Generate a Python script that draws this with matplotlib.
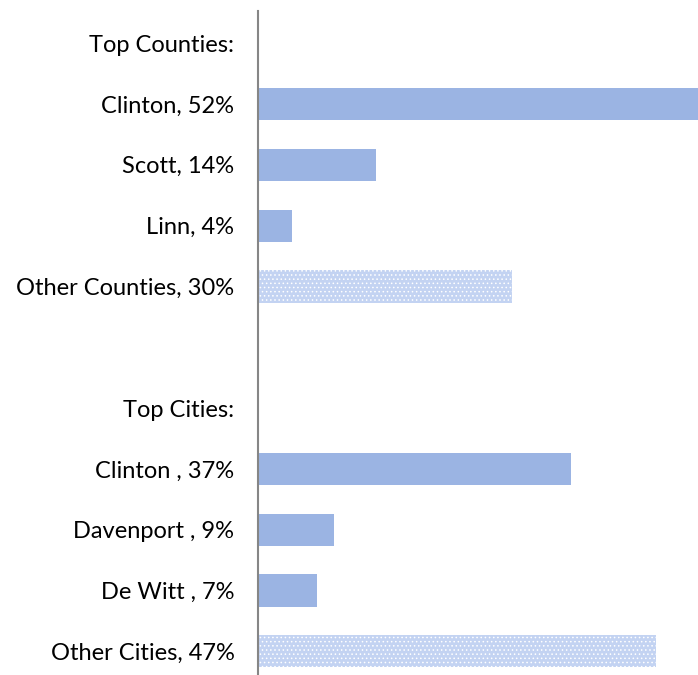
import matplotlib.pyplot as plt

plt.rcParams['font.family'] = ['Lato', 'DejaVu Sans']
plt.rcParams['hatch.linewidth'] = 0.6

labels = ["Top Counties:", "Clinton, 52%", "Scott, 14%", "Linn, 4%",
          "Other Counties, 30%", "", "Top Cities:", "Clinton , 37%",
          "Davenport , 9%", "De Witt , 7%", "Other Cities, 47%"]
values = [0, 52, 14, 4, 30, 0, 0, 37, 9, 7, 47]
is_other = [False, False, False, False, True, False, False, False, False, False, True]

C_BAR = "#9bb4e3"
C_OTHER = "#c3d3f2"

fig = plt.figure(figsize=(6.98, 6.75), dpi=100)
ax = fig.add_axes([258 / 698, 0.0, 1 - 258 / 698, 1 - 11 / 675])

ypos = list(range(len(labels)))
for y, v, other in zip(ypos, values, is_other):
    if v == 0:
        continue
    if other:
        ax.barh(y, v, height=0.53, color=C_OTHER, edgecolor="white",
                hatch="....", linewidth=0)
    else:
        ax.barh(y, v, height=0.53, color=C_BAR, linewidth=0)

ax.set_xlim(0, 52)
ax.set_ylim(10.39, -0.53)
ax.set_yticks(ypos)
ax.set_yticklabels(labels, fontsize=17, color="black")
ax.tick_params(axis="y", length=0, pad=17)
ax.set_xticks([])
for s in ["top", "right", "bottom"]:
    ax.spines[s].set_visible(False)
ax.spines["left"].set_color("#868686")
ax.spines["left"].set_linewidth(1.5)

fig.savefig("out.png", dpi=100)
